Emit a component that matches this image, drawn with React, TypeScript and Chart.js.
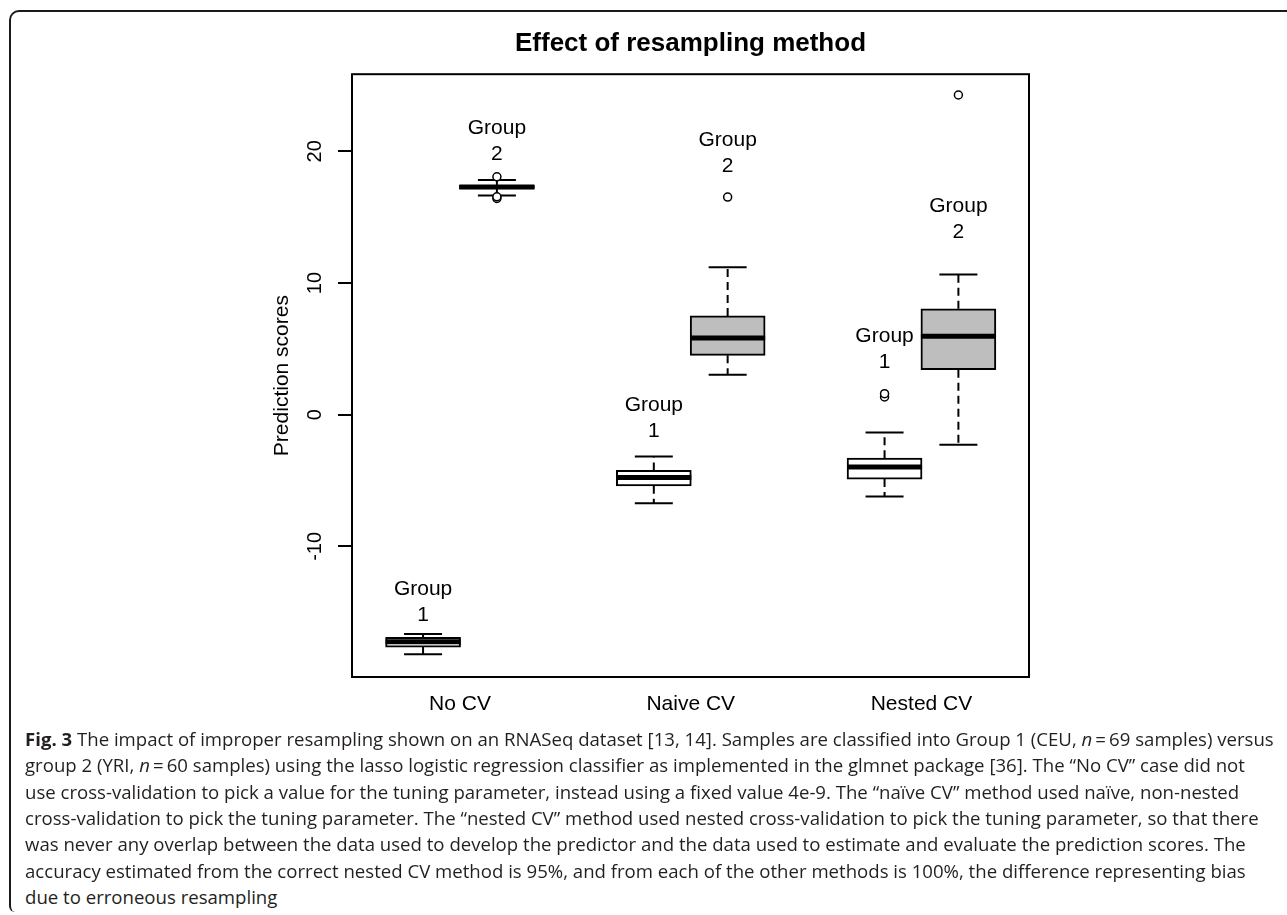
import React, { useEffect, useRef } from 'react';
import { Chart, registerables } from 'chart.js';

Chart.register(...registerables);

// ---- data ----
const methods = ['No CV', 'Naive CV', 'Nested CV'];
const boxMethod = [0, 0, 1, 1, 2, 2];
const boxGroup = [1, 2, 1, 2, 1, 2];
const lowerWhisker = [-18.2, 16.65, -6.72, 3.04, -6.21, -2.28];
const q1 = [-17.65, 17.15, -5.4, 4.51, -4.89, 3.42];
const median = [-17.25, 17.29, -4.77, 5.83, -3.98, 5.95];
const q3 = [-16.9, 17.42, -4.23, 7.5, -3.3, 8.04];
const upperWhisker = [-16.65, 17.82, -3.17, 11.2, -1.35, 10.65];
const outlierBox = [1, 1, 1, 3, 4, 4, 5];
const outlierValues = [18.07, 16.42, 16.55, 16.53, 1.35, 1.6, 24.28];
const labelAnchorY = [-15.21, 19.77, -1.29, 18.86, 3.95, 13.84];
const yTicks = [-10, 0, 10, 20];

const GROUP_OFFSET = 0.16;
const FONT = '"Liberation Sans", Arial, Helvetica, sans-serif';

const pos = (i: number) => boxMethod[i] + 1 + (boxGroup[i] === 1 ? -GROUP_OFFSET : GROUP_OFFSET);

const framePlugin = {
  id: 'rFrame',
  afterDraw(chart: any) {
    const { ctx, chartArea: a, scales } = chart;
    const y = scales.y;
    ctx.save();
    ctx.strokeStyle = '#000';
    ctx.lineWidth = 2;
    ctx.strokeRect(a.left, a.top, a.right - a.left, a.bottom - a.top);
    // rotated y tick labels
    ctx.fillStyle = '#000';
    ctx.font = '20px ' + FONT;
    ctx.textAlign = 'center';
    ctx.textBaseline = 'middle';
    y.ticks.forEach((t: any) => {
      const py = y.getPixelForValue(t.value);
      ctx.save();
      ctx.translate(a.left - 37, py);
      ctx.rotate(-Math.PI / 2);
      ctx.fillText(String(t.value), 0, 0);
      ctx.restore();
    });
    ctx.restore();
  },
};

const groupLabelPlugin = {
  id: 'groupLabels',
  afterDatasetsDraw(chart: any) {
    const { ctx, scales } = chart;
    const x = scales.x;
    const y = scales.y;
    ctx.save();
    ctx.fillStyle = '#000';
    ctx.font = '21px ' + FONT;
    ctx.textAlign = 'center';
    ctx.textBaseline = 'middle';
    labelAnchorY.forEach((v, i) => {
      const px = x.getPixelForValue(pos(i));
      const py = y.getPixelForValue(v);
      ctx.fillText('Group', px, py - 26);
      ctx.fillText(String(boxGroup[i]), px, py);
    });
    ctx.restore();
  },
};

function BoxChart() {
  const ref = useRef<HTMLCanvasElement | null>(null);
  useEffect(() => {
    if (!ref.current) return;
    const whiskerData: any[] = [];
    for (let i = 0; i < boxMethod.length; i++) {
      whiskerData.push({ x: pos(i), y: q3[i] }, { x: pos(i), y: upperWhisker[i] }, { x: pos(i), y: null });
      whiskerData.push({ x: pos(i), y: q1[i] }, { x: pos(i), y: lowerWhisker[i] }, { x: pos(i), y: null });
    }
    const capData: any[] = [];
    for (let i = 0; i < boxMethod.length; i++) {
      capData.push({ x: pos(i), y: upperWhisker[i] }, { x: pos(i), y: lowerWhisker[i] });
    }
    const chart = new Chart(ref.current, {
      type: 'bar',
      data: {
        datasets: [
          {
            type: 'scatter',
            data: outlierValues.map((v, k) => ({ x: pos(outlierBox[k]), y: v })),
            pointStyle: 'circle',
            pointRadius: 4,
            pointBorderWidth: 1.5,
            borderColor: '#000',
            backgroundColor: '#fff',
          } as any,
          {
            type: 'scatter',
            data: capData,
            pointStyle: 'line',
            pointRadius: 19,
            pointBorderWidth: 2,
            borderColor: '#000',
            backgroundColor: '#000',
          } as any,
          {
            type: 'scatter',
            data: median.map((m, i) => ({ x: pos(i), y: m })),
            pointStyle: 'line',
            pointRadius: 37.5,
            pointBorderWidth: 5,
            borderColor: '#000',
            backgroundColor: '#000',
          } as any,
          {
            type: 'line',
            data: whiskerData,
            borderColor: '#000',
            borderWidth: 2,
            borderDash: [8, 5],
            pointRadius: 0,
            spanGaps: false,
            fill: false,
          } as any,
          {
            type: 'bar',
            data: boxMethod.map((_, i) => ({ x: pos(i), y: [q1[i], q3[i]] })),
            backgroundColor: boxGroup.map((g) => (g === 1 ? '#ffffff' : '#bebebe')),
            borderColor: '#000',
            borderWidth: 2,
            borderSkipped: false,
            barThickness: 75,
            grouped: false,
          } as any,
        ],
      },
      options: {
        responsive: false,
        animation: false,
        devicePixelRatio: 1,
        events: [],
        layout: { padding: 0 },
        plugins: {
          legend: { display: false },
          tooltip: { enabled: false },
          title: {
            display: true,
            text: 'Effect of resampling method',
            color: '#000',
            font: { family: FONT, size: 26, weight: 'bold' },
            padding: { top: 28, bottom: 15 },
          },
        },
        scales: {
          x: {
            type: 'linear',
            min: 0.532,
            max: 3.466,
            offset: false,
            grid: { display: false, drawTicks: false },
            border: { display: false },
            afterBuildTicks: (s: any) => {
              s.ticks = methods.map((_, i) => ({ value: i + 1 }));
            },
            afterFit: (s: any) => {
              s.height = 63;
            },
            ticks: {
              autoSkip: false,
              maxRotation: 0,
              minRotation: 0,
              padding: 15,
              color: '#000',
              font: { family: FONT, size: 21 },
              callback: (v: any) => methods[Math.round(Number(v)) - 1] ?? '',
            },
          },
          y: {
            type: 'linear',
            position: 'left',
            min: -19.92,
            max: 25.86,
            afterBuildTicks: (s: any) => {
              s.ticks = yTicks.map((v) => ({ value: v }));
            },
            afterFit: (s: any) => {
              s.width = 92;
            },
            grid: {
              display: true,
              drawOnChartArea: false,
              drawTicks: true,
              tickLength: 14,
              lineWidth: 2,
              color: '#000',
            },
            border: { display: false },
            ticks: { display: false },
            title: {
              display: true,
              text: 'Prediction scores',
              color: '#000',
              font: { family: FONT, size: 21 },
              padding: { top: 10, bottom: 0 },
            },
          },
          yRight: {
            type: 'linear',
            position: 'right',
            display: true,
            grid: { display: false, drawTicks: false },
            border: { display: false },
            ticks: { display: false },
            afterFit: (s: any) => {
              s.width = 92;
            },
          },
        },
      } as any,
      plugins: [groupLabelPlugin, framePlugin],
    });
    return () => chart.destroy();
  }, []);
  return (
    <canvas
      ref={ref}
      width={861}
      height={740}
      style={{ position: 'absolute', left: 260, top: 0, width: 861, height: 740 }}
    />
  );
}

const captionFont = '"Open Sans", "Noto Sans", sans-serif';

export default function App() {
  const lineStyle = (k: number): React.CSSProperties => ({
    position: 'absolute',
    left: 25,
    top: 739 + k * 26.3 - 13,
    height: 26,
    lineHeight: '26px',
    whiteSpace: 'nowrap',
    fontFamily: captionFont,
    fontSize: 18.6,
    color: '#231f20',
  });
  return (
    <div
      style={{
        position: 'fixed',
        left: 0,
        top: 0,
        width: 1287,
        height: 915,
        background: '#fff',
        overflow: 'hidden',
      }}
    >
      <div
        style={{
          position: 'absolute',
          left: 9,
          top: 10,
          width: 1300,
          height: 902,
          borderTop: '2px solid #1a1a1a',
          borderLeft: '2px solid #1a1a1a',
          borderTopLeftRadius: 10,
          borderBottomLeftRadius: 6,
          boxSizing: 'border-box',
        }}
      />
      <BoxChart />
      <div style={lineStyle(0)}>
        <b>Fig. 3</b> The impact of improper resampling shown on an RNASeq dataset [13, 14]. Samples are classified into Group 1 (CEU, <i>n</i>{'\u2009=\u2009'}69 samples) versus
      </div>
      <div style={lineStyle(1)}>
        group 2 (YRI, <i>n</i>{'\u2009=\u2009'}60 samples) using the lasso logistic regression classifier as implemented in the glmnet package [36]. The “No CV” case did not
      </div>
      <div style={lineStyle(2)}>
        use cross-validation to pick a value for the tuning parameter, instead using a fixed value 4e-9. The “naïve CV” method used naïve, non-nested
      </div>
      <div style={lineStyle(3)}>
        cross-validation to pick the tuning parameter. The “nested CV” method used nested cross-validation to pick the tuning parameter, so that there
      </div>
      <div style={lineStyle(4)}>
        was never any overlap between the data used to develop the predictor and the data used to estimate and evaluate the prediction scores. The
      </div>
      <div style={lineStyle(5)}>
        accuracy estimated from the correct nested CV method is 95%, and from each of the other methods is 100%, the difference representing bias
      </div>
      <div style={lineStyle(6)}>due to erroneous resampling</div>
    </div>
  );
}
